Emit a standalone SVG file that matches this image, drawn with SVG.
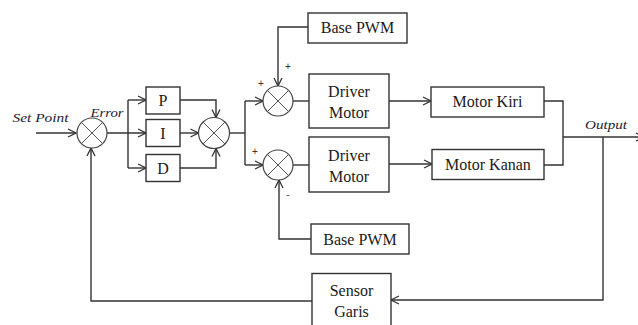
<svg xmlns="http://www.w3.org/2000/svg" width="638" height="325" viewBox="0 0 638 325">
<style>
.box{fill:#fff;stroke:#333;stroke-width:1.4}
.sum{fill:#fff;stroke:#444;stroke-width:1.2}
.x{stroke:#555;stroke-width:1}
.ln{fill:none;stroke:#333;stroke-width:1.4}
.t{font-family:"Liberation Serif","Times New Roman",serif;font-size:16px;fill:#1a1a1a;text-anchor:middle}
.it{font-family:"Liberation Serif","Times New Roman",serif;font-size:13px;font-style:italic;fill:#1c2233}
.sg{font-family:"Liberation Sans",Arial,sans-serif;font-size:10px;fill:#333;text-anchor:middle}
</style>
<defs>
<marker id="arr" markerWidth="10" markerHeight="10" refX="9" refY="5" orient="auto" markerUnits="userSpaceOnUse">
<path d="M1,1 L9,5 L1,9" fill="none" stroke="#333" stroke-width="1.3"/>
</marker>
</defs>
<g id="connectors">
<path class="ln" d="M36,133 H76" marker-end="url(#arr)"/>
<path class="ln" d="M107,133 H146" marker-end="url(#arr)"/>
<path class="ln" d="M128,100 V168"/>
<path class="ln" d="M128,100 H146" marker-end="url(#arr)"/>
<path class="ln" d="M128,168 H146" marker-end="url(#arr)"/>
<path class="ln" d="M180,100 H216 V117.5" marker-end="url(#arr)"/>
<path class="ln" d="M180,133 H198.5" marker-end="url(#arr)"/>
<path class="ln" d="M180,168 H216 V148.5" marker-end="url(#arr)"/>
<path class="ln" d="M229.5,133 H245"/>
<path class="ln" d="M245,101 V165"/>
<path class="ln" d="M245,101 H263" marker-end="url(#arr)"/>
<path class="ln" d="M245,165 H263" marker-end="url(#arr)"/>
<path class="ln" d="M308,27 H278 V86" marker-end="url(#arr)"/>
<path class="ln" d="M293,101 H309"/>
<path class="ln" d="M293,165 H309"/>
<path class="ln" d="M311,239 H279 V180" marker-end="url(#arr)"/>
<path class="ln" d="M389,101 H431" marker-end="url(#arr)"/>
<path class="ln" d="M389,164 H432" marker-end="url(#arr)"/>
<path class="ln" d="M544,101 H563 V165 H544"/>
<path class="ln" d="M563,137 H644" marker-end="url(#arr)"/>
<path class="ln" d="M603,137 V300 H391" marker-end="url(#arr)"/>
<path class="ln" d="M312,301 H91 V148" marker-end="url(#arr)"/>
</g>
<g id="sum1">
<circle class="sum" cx="92" cy="133" r="15"/>
<path class="x" d="M81.4,122.4 L102.6,143.6 M102.6,122.4 L81.4,143.6"/>
</g>
<g id="sum2">
<circle class="sum" cx="214" cy="133" r="15.5"/>
<path class="x" d="M203,122 L225,144 M225,122 L203,144"/>
</g>
<g id="sum3">
<circle class="sum" cx="278" cy="101" r="15"/>
<path class="x" d="M267.4,90.4 L288.6,111.6 M288.6,90.4 L267.4,111.6"/>
</g>
<g id="sum4">
<circle class="sum" cx="278" cy="165" r="15"/>
<path class="x" d="M267.4,154.4 L288.6,175.6 M288.6,154.4 L267.4,175.6"/>
</g>
<g id="labels">
<text class="it" x="12.5" y="122" textLength="56" lengthAdjust="spacingAndGlyphs">Set Point</text>
<text class="it" x="90.5" y="117" textLength="33" lengthAdjust="spacingAndGlyphs">Error</text>
<text class="it" x="585" y="128.5" textLength="42" lengthAdjust="spacingAndGlyphs">Output</text>
<text class="sg" x="261" y="87">+</text>
<text class="sg" x="288" y="70">+</text>
<text class="sg" x="255" y="155">+</text>
<text class="sg" x="288" y="198">-</text>
</g>
<g id="P"><rect class="box" x="146" y="87" width="34" height="27"/><text class="t" x="163" y="106">P</text></g>
<g id="I"><rect class="box" x="146" y="119.5" width="34" height="27"/><text class="t" x="163" y="139">I</text></g>
<g id="D"><rect class="box" x="146" y="154.5" width="34" height="27"/><text class="t" x="163" y="174">D</text></g>
<g id="basepwm1"><rect class="box" x="308" y="13" width="99" height="30"/><text class="t" x="357.5" y="33">Base PWM</text></g>
<g id="driver1"><rect class="box" x="309" y="74" width="80" height="54"/><text class="t" x="349" y="97">Driver</text><text class="t" x="349" y="118">Motor</text></g>
<g id="driver2"><rect class="box" x="309" y="137" width="80" height="55"/><text class="t" x="349" y="161">Driver</text><text class="t" x="349" y="182">Motor</text></g>
<g id="basepwm2"><rect class="box" x="311" y="224" width="98" height="30"/><text class="t" x="360" y="244.5">Base PWM</text></g>
<g id="motorkiri"><rect class="box" x="431" y="87" width="113" height="30"/><text class="t" x="487.5" y="107">Motor Kiri</text></g>
<g id="motorkanan"><rect class="box" x="432" y="149.5" width="112" height="30"/><text class="t" x="488" y="170">Motor Kanan</text></g>
<g id="sensor"><rect class="box" x="312" y="273.5" width="79" height="60"/><text class="t" x="351.5" y="296">Sensor</text><text class="t" x="351.5" y="317">Garis</text></g>
</svg>
